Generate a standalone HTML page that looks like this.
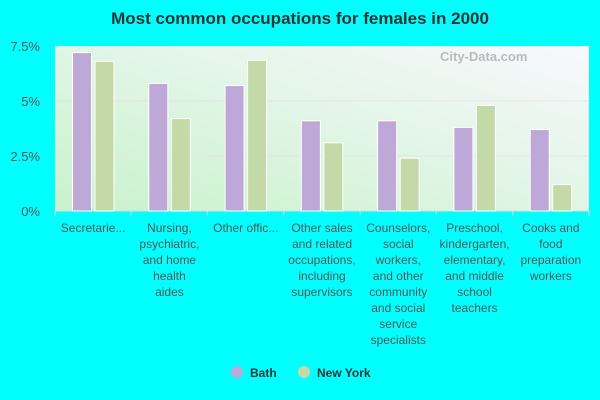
<!DOCTYPE html>
<html><head><meta charset="utf-8"><style>
body{margin:0;background:#00ffff;font-family:"Liberation Sans",Arial,sans-serif;}
svg{display:block}
</style></head><body>
<svg id="c" width="600" height="400">
<defs>
<linearGradient id="bg" x1="0" y1="1" x2="1" y2="0">
<stop offset="0" stop-color="#c8f2cc"/><stop offset="1" stop-color="#f8f8fd"/>
</linearGradient>
</defs>
<text x="300" y="24" text-anchor="middle" font-size="17" font-weight="bold" fill="#333">Most common occupations for females in 2000</text>
<rect x="55" y="46" width="534" height="165" fill="url(#bg)"/>
<text x="440" y="61" font-size="13" fill="#bbb" font-weight="bold">City-Data.com</text>
<g id="grid"></g><g id="bars"></g><g id="xlab"></g>
<g>
<circle cx="237" cy="372" r="6" fill="#bea8d8"/>
<text x="250" y="377" font-size="12" font-weight="bold" fill="#333">Bath</text>
<circle cx="304" cy="372" r="6" fill="#c4d9a8"/>
<text x="317" y="377" font-size="12" font-weight="bold" fill="#333">New York</text>
</g>
</svg>
<script>
const categories=[["Secretarie..."],["Nursing,","psychiatric,","and home","health","aides"],["Other offic..."],["Other sales","and related","occupations,","including","supervisors"],["Counselors,","social","workers,","and other","community","and social","service","specialists"],["Preschool,","kindergarten,","elementary,","and middle","school","teachers"],["Cooks and","food","preparation","workers"]];
const bath=[7.2,5.8,5.7,4.1,4.1,3.8,3.7];
const newYork=[6.8,4.2,6.85,3.1,2.4,4.8,1.2];
const yTicks=[0,2.5,5,7.5];
const yTickLabels=["0%","2.5%","5%","7.5%"];
const NS="http://www.w3.org/2000/svg";
const L=55,R=589,T=46,B=211,maxV=7.5;
const y=v=>B-(v/maxV)*(B-T);
const gw=(R-L)/categories.length;
const x=i=>L+i*gw;
function mk(t,a,p){const e=document.createElementNS(NS,t);for(const k in a)e.setAttribute(k,a[k]);p.appendChild(e);return e;}
const grid=document.getElementById('grid');
yTicks.forEach((v,i)=>{
 if(v>0&&v<maxV){const l=mk('line',{x1:L,x2:R,y1:y(v),y2:y(v),stroke:'#e4e4e4'},grid);
 
 }
 const t=mk('text',{x:40,y:y(v)+5,'text-anchor':'end','font-size':13,fill:'#555'},grid);
 t.textContent=yTickLabels[i];
 
 
});
const ax=mk('line',{x1:L,x2:R,y1:B,y2:B,stroke:'#ddd'},grid);


const bars=document.getElementById('bars'),xl=document.getElementById('xlab');
categories.forEach((c,i)=>{
 const b=mk('rect',{x:x(i)+17.5,y:y(bath[i]),width:19,height:B-y(bath[i]),fill:'#bea8d8',stroke:'#fff','stroke-width':1},bars);
 
 
 const n=mk('rect',{x:x(i)+40,y:y(newYork[i]),width:19,height:B-y(newYork[i]),fill:'#c4d9a8',stroke:'#fff','stroke-width':1},bars);
 
 
 const tk=mk('line',{x1:x(i),x2:x(i),y1:B,y2:B+5,stroke:'#ddd'},xl);
 
 
 const t=mk('text',{'text-anchor':'middle','font-size':12,fill:'#555'},xl);
 
 
 c.forEach((s,j)=>{const ts=mk('tspan',{x:x(i)+gw/2,y:232+j*16},t);ts.textContent=s;});
});
const tk=mk('line',{x1:R,x2:R,y1:B,y2:B+5,stroke:'#ddd'},xl);


</script>
</body></html>
